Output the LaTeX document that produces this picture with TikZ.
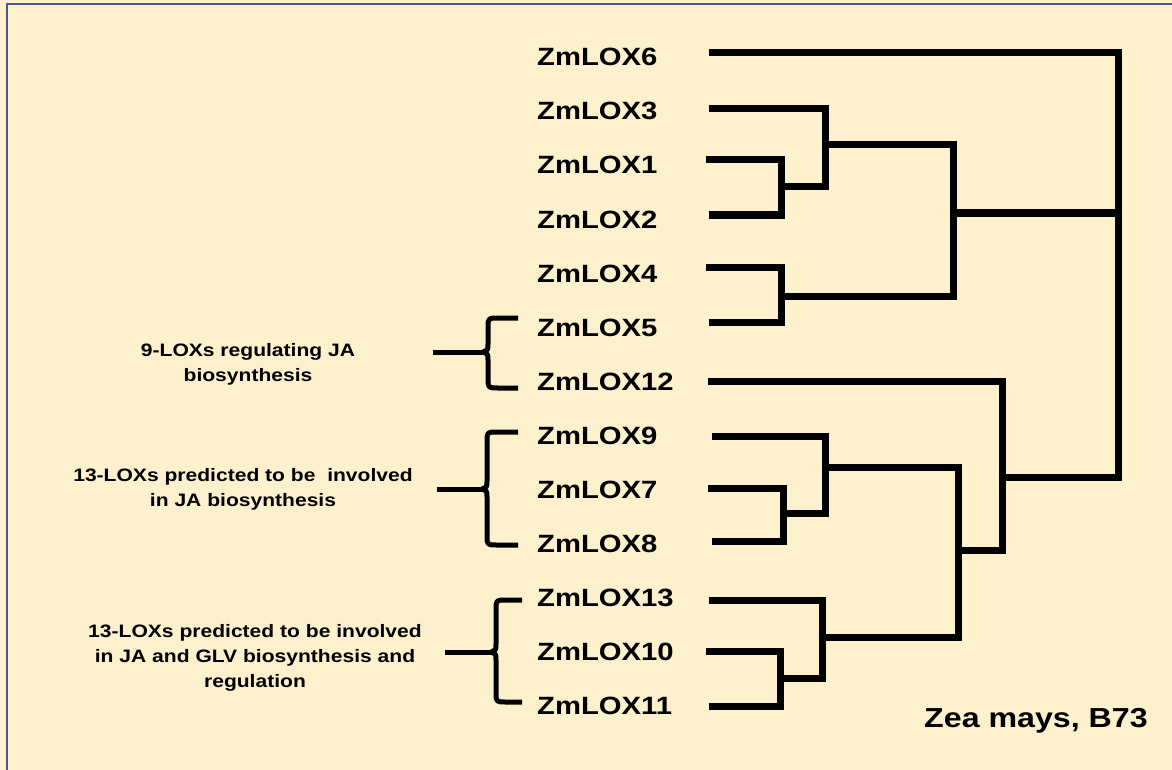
\documentclass[tikz,border=0pt]{standalone}
\usepackage{fontspec}
\setmainfont{Liberation Sans}[FakeStretch=1.17]
\definecolor{bgc}{RGB}{253,240,205}
\definecolor{bordc}{RGB}{70,88,140}
\newcommand\drawbrace[6]{%
  \draw[brc] (#3,#4) -- ({#2+10},#4) .. controls (#2,#4) .. (#2,{#4+10}) -- (#2,{#5-8}) .. controls (#2,{#5-2}) .. ({#2-5},#5) .. controls (#2,{#5+2}) .. (#2,{#5+8}) -- (#2,{#6-10}) .. controls (#2,#6) .. ({#2+10},#6) -- (#3,#6);
  \draw[brc] (#1,#5) -- ({#2-5},#5);
}
\begin{document}
\begin{tikzpicture}[x=1pt,y=-1pt,
  leaf/.style={anchor=base west,inner sep=0pt,font=\fontsize{25}{30}\selectfont\bfseries},
  note/.style={align=center,inner sep=0pt,font=\fontsize{18}{25}\selectfont\bfseries},
  tree/.style={line width=7pt,line join=miter},
  brc/.style={line width=5pt,line join=round}]
\fill[bgc] (0,0) rectangle (1172,770);
\useasboundingbox (0,0) rectangle (1172,770);
\draw[bordc,line width=1.5pt] (7,770) -- (7,4) -- (1172,4);
% labels
\foreach \n/\k in {6/0,3/1,1/2,2/3,4/4,5/5,12/6,9/7,7/8,8/9,13/10,10/11,11/12}{
  \node[leaf] (t\n) at (537,{57+54*\k+9}) {ZmLOX\n};
}
% leaf tips
\coordinate (l6) at (709,53);
\coordinate (l3) at (709,109);
\coordinate (l1) at (706,160);
\coordinate (l2) at (709,215);
\coordinate (l4) at (706,267);
\coordinate (l5) at (709,322);
\coordinate (l12) at (708,381);
\coordinate (l9) at (712,436);
\coordinate (l7) at (708,488);
\coordinate (l8) at (712,541);
\coordinate (l13) at (709,600);
\coordinate (l10) at (706,651);
\coordinate (l11) at (709,706);
% internal nodes
\coordinate (n12) at (781,187);
\coordinate (n312) at (825,145);
\coordinate (n45) at (781,296);
\coordinate (nA) at (953,213);
\coordinate (root) at (1118,213);
\coordinate (n78) at (783,513);
\coordinate (n978) at (825,467);
\coordinate (n1011) at (780,678);
\coordinate (n13) at (822,637);
\coordinate (nB) at (958,550);
\coordinate (nC) at (1002,477);
% tree
\draw[tree] (l1) -| (n12) |- (l2);
\draw[tree] (l3) -| (n312) |- (n12);
\draw[tree] (l4) -| (n45) |- (l5);
\draw[tree] (n312) -| (nA) |- (n45);
\draw[tree] (l6) -| (root) |- (nC);
\draw[tree] (nA) -- (root);
\draw[tree] (l7) -| (n78) |- (l8);
\draw[tree] (l9) -| (n978) |- (n78);
\draw[tree] (l10) -| (n1011) |- (l11);
\draw[tree] (l13) -| (n13) |- (n1011);
\draw[tree] (n978) -| (nB) |- (n13);
\draw[tree] (l12) -| (nC) |- (nB);
% braces
\drawbrace{433}{488}{518}{318}{352}{388}
\drawbrace{437}{487}{518}{432}{489}{545}
\drawbrace{445}{496}{522}{600}{652}{702}
% notes
\node[note] (g1) at (248,364) {9-LOXs regulating JA\\biosynthesis};
\node[note] (g2) at (243,489) {13-LOXs predicted to be\ \ involved\\in JA biosynthesis};
\node[note] (g3) at (255,658) {13-LOXs predicted to be involved\\in JA and GLV biosynthesis and\\regulation};
\node[inner sep=0pt,font=\fontsize{27.5}{32}\selectfont\bfseries] (sp) at (1036,721) {Zea mays, B73};
\end{tikzpicture}
\end{document}
